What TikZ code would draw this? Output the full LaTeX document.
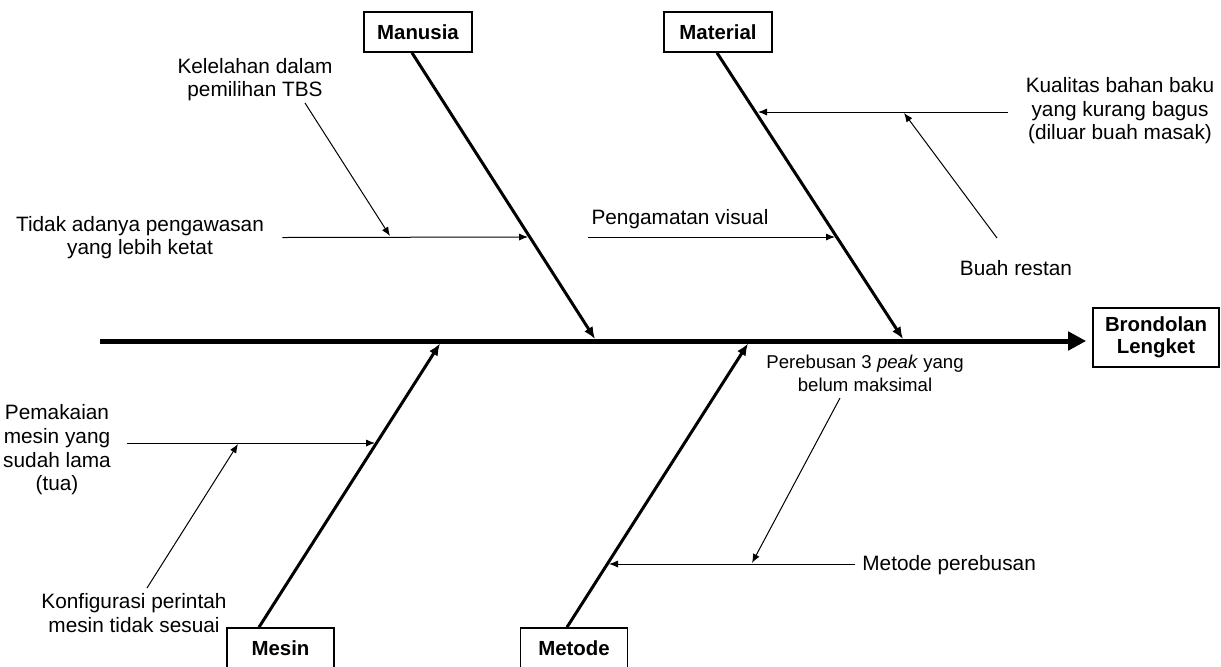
\documentclass[tikz,border=0pt]{standalone}
\usepackage{fontspec}
\setmainfont{Liberation Sans}
\usepackage{tikz}
\usetikzlibrary{arrows.meta}

\begin{document}
\begin{tikzpicture}[
		x=0.5pt,y=-0.5pt,
		line join=miter,
		catbox/.style={draw, line width=0.8pt, minimum width=54pt, minimum height=20pt, inner sep=2pt, font=\fontsize{10.2}{11.8}\selectfont\bfseries},
		headbox/.style={draw, line width=0.8pt, minimum width=63pt, minimum height=29.5pt, inner sep=2pt, align=center, font=\fontsize{10.2}{11}\selectfont\bfseries},
		causetext/.style={inner sep=0pt, align=center, font=\fontsize{10.4}{11.8}\selectfont},
		spine/.style={line width=2.5pt, -{Triangle[length=9pt,width=9pt]}},
		bone/.style={line width=1.5pt, -{Latex[length=6pt,width=5pt]}},
		cause/.style={line width=0.5pt, -{Latex[length=4.5pt,width=3.6pt]}}
	]
	\useasboundingbox (0,0) rectangle (1221,666);
	
	% Effect and spine
	\node[headbox] (effect) at (1156,337.5) {Brondolan\\Lengket};
	\coordinate (spinestart) at (100,341);
	\draw[spine] (spinestart) -- ([xshift=-3pt]spinestart -| effect.west);
	
	% Categories
	\node[catbox] (manusia)  at (418,32) {Manusia};
	\node[catbox] (material) at (718,32) {Material};
	\node[catbox, minimum width=53.5pt] (mesin)  at (280.5,648) {Mesin};
	\node[catbox, minimum width=53.5pt] (metode) at (574,648) {Metode};
	
	% Bones
	\coordinate (manusiaend)  at (595,339);
	\coordinate (materialend) at (903,339);
	\coordinate (mesinend)    at (440,343.5);
	\coordinate (metodeend)   at (748,343.5);
	\draw[bone] ([xshift=-3pt]manusia.south) -- (manusiaend);
	\draw[bone] ([xshift=-0.5pt]material.south) -- (materialend);
	\draw[bone] ([xshift=-10.75pt]mesin.north) -- (mesinend);
	\draw[bone] ([xshift=-3.5pt]metode.north) -- (metodeend);
	
	% Manusia causes
	\node[causetext] (tidak) at (140,237.5) {Tidak adanya pengawasan\\yang lebih ketat};
	\node[causetext] (lelah) at (255,79.5) {Kelelahan dalam\\pemilihan TBS};
	\coordinate (manusiac1) at (528,237);
	\coordinate (lelahfrom) at (305,103);
	\coordinate (lelahto)   at (390,236);
	\draw[cause] ([xshift=9pt]tidak.east) -- (manusiac1);
	\draw[cause] (lelahfrom) -- (lelahto);
	
	% Material causes
	\node[causetext] (amat) at (680,219) {Pengamatan visual};
	\node[causetext] (kualitas) at (1120,111) {Kualitas bahan baku\\yang kurang bagus\\(diluar buah masak)};
	\node[causetext] (restan) at (1016,268) {Buah restan};
	\coordinate (amatfrom)    at (588,237);
	\coordinate (materialc1)  at (835,237);
	\coordinate (materialc2)  at (758,112);
	\coordinate (restanfrom)  at (997,238);
	\coordinate (restanto)    at (904,113);
	\draw[cause] (amatfrom) -- (materialc1);
	\draw[cause] ([xshift=-8.5pt]kualitas.west |- materialc2) -- (materialc2);
	\draw[cause] (restanfrom) -- (restanto);
	
	% Mesin causes
	\node[causetext] (pakai) at (57,450) {Pemakaian\\mesin yang\\sudah lama\\(tua)};
	\node[causetext] (konfig) at (134,613) {Konfigurasi perintah\\mesin tidak sesuai};
	\coordinate (pakaifrom)  at (127,443);
	\coordinate (mesinc1)    at (375,443);
	\coordinate (konfigfrom) at (147,588);
	\coordinate (konfigto)   at (238,444);
	\draw[cause] (pakaifrom) -- (mesinc1);
	\draw[cause] (konfigfrom) -- (konfigto);
	
	% Metode causes
	\node[causetext, font=\fontsize{9.3}{11.5}\selectfont] (rebus) at (865,373) {Perebusan 3 \textit{peak} yang\\belum maksimal};
	\node[causetext, anchor=west] (metodetext) at (862,565) {Metode perebusan};
	\coordinate (rebusfrom) at (840,398);
	\coordinate (rebusto)   at (752,563);
	\coordinate (metodec1)  at (609,564);
	\draw[cause] ([xshift=-3.5pt]metodetext.west |- metodec1) -- (metodec1);
	\draw[cause] (rebusfrom) -- (rebusto);
	
\end{tikzpicture}
\end{document}
